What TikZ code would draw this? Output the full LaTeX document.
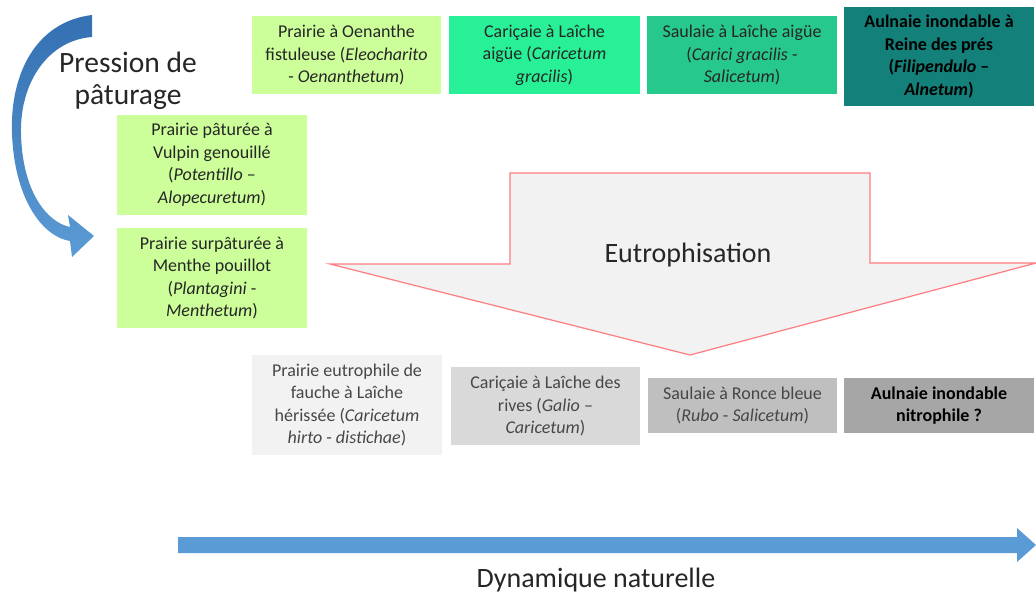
\documentclass[tikz,border=0pt]{standalone}
\usepackage{fontspec}
\setmainfont{Carlito}
\definecolor{greenA}{RGB}{204,255,153}
\definecolor{greenB}{RGB}{40,240,150}
\definecolor{greenC}{RGB}{38,200,140}
\definecolor{tealD}{RGB}{20,128,122}
\definecolor{greyG}{RGB}{242,242,242}
\definecolor{greyH}{RGB}{217,217,217}
\definecolor{greyI}{RGB}{191,191,191}
\definecolor{greyJ}{RGB}{166,166,166}
\definecolor{eutroLine}{RGB}{255,124,128}
\definecolor{arrowBlue}{RGB}{91,155,213}
\definecolor{arrowBlueDark}{RGB}{52,112,178}
\begin{document}
\begin{tikzpicture}[x=1pt,y=-1pt,
  habitat/.style={inner sep=0pt, align=center, font=\fontsize{18}{22.5}\selectfont, text=black!85},
  greytext/.style={text=black!72},
  biglabel/.style={align=center, font=\fontsize{28}{32}\selectfont, text=black!85, inner sep=0pt},
]
\useasboundingbox (0,0) rectangle (1036,600);
\fill[white] (0,0) rectangle (1036,600);

% Eutrophisation block arrow
\filldraw[fill=greyG, draw=eutroLine, line width=1.2pt, line join=miter]
  (330,264) -- (510,264) -- (510,173) -- (870,173) -- (870,263) -- (1036,263) -- (690,355) -- cycle;
\node[biglabel] (eutro) at (688,255) {Eutrophisation};

% Top row
\node[habitat, fill=greenA, minimum width=189pt, minimum height=78pt] (A) at (346.5,55)
  {Prairie à Oenanthe\\fistuleuse (\textit{Eleocharito}\\- \textit{Oenanthetum})};
\node[habitat, fill=greenB, minimum width=191pt, minimum height=78pt] (B) at (544.5,55)
  {Cariçaie à Laîche\\aigüe (\textit{Caricetum}\\\textit{gracilis})};
\node[habitat, fill=greenC, minimum width=190pt, minimum height=78pt] (C) at (742,55)
  {Saulaie à Laîche aigüe\\(\textit{Carici gracilis} -\\\textit{Salicetum})};
\node[habitat, fill=tealD, text=black, font=\fontsize{18}{22.5}\selectfont\bfseries, minimum width=190pt, minimum height=99pt] (D) at (939,56.5)
  {Aulnaie inondable à\\Reine des prés\\(\textit{Filipendulo} –\\\textit{Alnetum})};

% Left column
\node[habitat, fill=greenA, minimum width=190pt, minimum height=100pt] (E) at (212,165)
  {Prairie pâturée à\\Vulpin genouillé\\(\textit{Potentillo} –\\\textit{Alopecuretum})};
\node[habitat, fill=greenA, minimum width=190pt, minimum height=100pt] (F) at (212,278)
  {Prairie surpâturée à\\Menthe pouillot\\(\textit{Plantagini} -\\\textit{Menthetum})};

% Bottom row
\node[habitat, greytext, fill=greyG, minimum width=190pt, minimum height=100pt] (G) at (347,405)
  {Prairie eutrophile de\\fauche à Laîche\\hérissée (\textit{Caricetum}\\\textit{hirto} - \textit{distichae})};
\node[habitat, greytext, fill=greyH, minimum width=189pt, minimum height=78pt] (H) at (545.5,406)
  {Cariçaie à Laîche des\\rives (\textit{Galio} –\\\textit{Caricetum})};
\node[habitat, greytext, fill=greyI, minimum width=189pt, minimum height=55pt] (I) at (742.5,405.5)
  {Saulaie à Ronce bleue\\(\textit{Rubo} - \textit{Salicetum})};
\node[habitat, fill=greyJ, text=black, font=\fontsize{18}{22.5}\selectfont\bfseries, minimum width=190pt, minimum height=55pt] (J) at (939,405.5)
  {Aulnaie inondable\\nitrophile ?};

% Curved arrow: grazing pressure
\shade[top color=arrowBlueDark, bottom color=arrowBlue]
  (92,15) .. controls (35,22) and (10,75) .. (12,133)
  .. controls (14,195) and (40,236) .. (70,241)
  -- (72,257) -- (94,236) -- (68,215) -- (70,227)
  .. controls (46,222) and (22,190) .. (21,133)
  .. controls (20,80) and (50,40) .. (92,37) -- cycle;
\node[biglabel, font=\fontsize{29.5}{32}\selectfont] (press) at (128,81) {Pression de\\pâturage};

% Natural dynamics arrow
\fill[arrowBlue] (178,537) -- (1017,537) -- (1017,528) -- (1036,545) -- (1017,562) -- (1017,553) -- (178,553) -- cycle;
\node[biglabel] (dyn) at (596,580) {Dynamique naturelle};
\end{tikzpicture}
\end{document}
